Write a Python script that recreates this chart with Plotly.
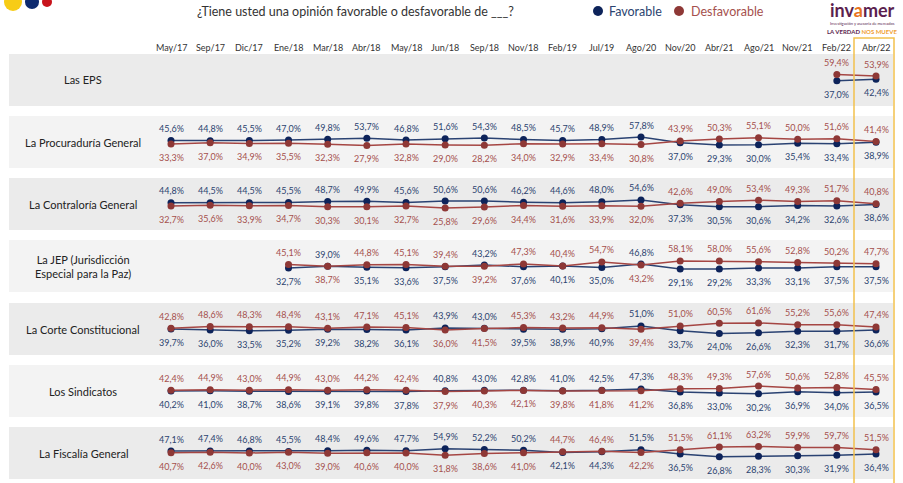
import plotly.graph_objects as go

W, H = 903, 483

months = ["May/17", "Sep/17", "Dic/17", "Ene/18", "Mar/18", "Abr/18", "May/18", "Jun/18",
          "Sep/18", "Nov/18", "Feb/19", "Jul/19", "Ago/20", "Nov/20", "Abr/21", "Ago/21",
          "Nov/21", "Feb/22", "Abr/22"]

institutions = ["Las EPS", "La Procuraduría General", "La Contraloría General",
                "La JEP (Jurisdicción<br>Especial para la Paz)", "La Corte Constitucional",
                "Los Sindicatos", "La Fiscalía General"]

N = None
eps_fav = [N] * 17 + [37.0, 42.4]
eps_desf = [N] * 17 + [59.4, 53.9]

procu_fav = [45.6, 44.8, 45.5, 47.0, 49.8, 53.7, 46.8, 51.6, 54.3, 48.5, 45.7, 48.9, 57.8,
             37.0, 29.3, 30.0, 35.4, 33.4, 38.9]
procu_desf = [33.3, 37.0, 34.9, 35.5, 32.3, 27.9, 32.8, 29.0, 28.2, 34.0, 32.9, 33.4, 30.8,
              43.9, 50.3, 55.1, 50.0, 51.6, 41.4]

contra_fav = [44.8, 44.5, 44.5, 45.5, 48.7, 49.9, 45.6, 50.6, 50.6, 46.2, 44.6, 48.0, 54.6,
              37.3, 30.5, 30.6, 34.2, 32.6, 38.6]
contra_desf = [32.7, 35.6, 33.9, 34.7, 30.3, 30.1, 32.7, 25.8, 29.6, 34.4, 31.6, 33.9, 32.0,
               42.6, 49.0, 53.4, 49.3, 51.7, 40.8]

jep_fav = [N, N, N, 32.7, 39.0, 35.1, 33.6, 37.5, 43.2, 37.6, 40.1, 35.0, 46.8,
           29.1, 29.2, 33.3, 33.1, 37.5, 37.5]
jep_desf = [N, N, N, 45.1, 38.7, 44.8, 45.1, 39.4, 39.2, 47.3, 40.4, 54.7, 43.2,
            58.1, 58.0, 55.6, 52.8, 50.2, 47.7]

corte_fav = [39.7, 36.0, 33.5, 35.2, 39.2, 38.2, 36.1, 43.9, 43.0, 39.5, 38.9, 40.9, 51.0,
             33.7, 24.0, 26.6, 32.3, 31.7, 36.6]
corte_desf = [42.8, 48.6, 48.3, 48.4, 43.1, 47.1, 45.1, 36.0, 41.5, 45.3, 43.2, 44.9, 39.4,
              51.0, 60.5, 61.6, 55.2, 55.6, 47.4]

sind_fav = [40.2, 41.0, 38.7, 38.6, 39.1, 39.8, 37.8, 40.8, 43.0, 42.8, 41.0, 42.5, 47.3,
            36.8, 33.0, 30.2, 36.9, 34.0, 36.5]
sind_desf = [42.4, 44.9, 43.0, 44.9, 43.0, 44.2, 42.4, 37.9, 40.3, 42.1, 39.8, 41.8, 41.2,
             48.3, 49.3, 57.6, 50.6, 52.8, 45.5]

fisc_fav = [47.1, 47.4, 46.8, 45.5, 48.4, 49.6, 47.7, 54.9, 52.2, 50.2, 42.1, 44.3, 51.5,
            36.5, 26.8, 28.3, 30.3, 31.9, 36.4]
fisc_desf = [40.7, 42.6, 40.0, 43.0, 39.0, 40.6, 40.0, 31.8, 38.6, 41.0, 44.7, 46.4, 42.2,
             51.5, 61.1, 63.2, 59.9, 59.7, 51.5]

favorable = [eps_fav, procu_fav, contra_fav, jep_fav, corte_fav, sind_fav, fisc_fav]
desfavorable = [eps_desf, procu_desf, contra_desf, jep_desf, corte_desf, sind_desf, fisc_desf]

BLUE_LINE, BLUE_MK, BLUE_TXT = "#2a4272", "#0d235a", "#2b4470"
RED_LINE, RED_MK, RED_TXT = "#a54643", "#8e3836", "#a5504d"
FONT = "Lato"

panel_tops = [54, 116, 178, 240, 303, 365, 427]
panel_h = 52
panel_bg = ["#ebebeb", "#f3f3f3", "#ebebeb", "#f3f3f3", "#ebebeb", "#f3f3f3", "#ebebeb"]


def px_x(x):
    return x / W


def px_y(y):
    return 1 - y / H


def fmt(v):
    return f"{v:.1f}%".replace(".", ",")


def note(text, x, y, size, color, xanchor="center", **kw):
    # free text placed in pixel coordinates of the page
    return dict(text=text, xref="paper", yref="paper", x=px_x(x), y=px_y(y),
                xanchor=xanchor, yanchor="middle", showarrow=False,
                font=dict(family=FONT, size=size, color=color), **kw)


fig = go.Figure()
shapes = []
annotations = []
layout_axes = {}

for i, name in enumerate(institutions):
    ax = "y" if i == 0 else f"y{i + 1}"
    top = panel_tops[i]
    layout_axes["yaxis" if i == 0 else f"yaxis{i + 1}"] = dict(
        domain=[px_y(top + panel_h), px_y(top)],
        range=[40 - 92.9, 40 + 92.9],
        visible=False, anchor="x", fixedrange=True,
    )
    shapes.append(dict(type="rect", xref="paper", yref="paper", layer="below",
                       x0=px_x(9), x1=px_x(893), y0=px_y(top + panel_h), y1=px_y(top),
                       fillcolor=panel_bg[i], line_width=0))
    annotations.append(note(name, 83, top + panel_h / 2, 11, "#222222"))

    fav, desf = favorable[i], desfavorable[i]
    fig.add_trace(go.Scatter(x=months, y=fav, mode="lines+markers", yaxis=ax, xaxis="x",
                             line=dict(color=BLUE_LINE, width=1.5),
                             marker=dict(color=BLUE_MK, size=7), showlegend=False))
    fig.add_trace(go.Scatter(x=months, y=desf, mode="lines+markers", yaxis=ax, xaxis="x",
                             line=dict(color=RED_LINE, width=1.5),
                             marker=dict(color=RED_MK, size=7), showlegend=False))

    for m, f, d in zip(months, fav, desf):
        if f is None:
            continue
        f_up = f > d
        for v, col, up in ((f, BLUE_TXT, f_up), (d, RED_TXT, not f_up)):
            annotations.append(dict(text=fmt(v), x=m, y=v, xref="x", yref=ax,
                                    xanchor="center", yanchor="middle",
                                    showarrow=False, yshift=12 if up else -13.5,
                                    font=dict(family=FONT, size=9, color=col)))

# month header
for m in months:
    annotations.append(dict(text=m, x=m, xref="x", yref="paper", y=px_y(47),
                            xanchor="center", yanchor="middle",
                            showarrow=False, font=dict(family=FONT, size=9, color="#333333")))

# title and legend
annotations.append(note("¿Tiene usted una opinión favorable o desfavorable de ___?",
                        355, 11, 12.5, "#333333"))
shapes.append(dict(type="circle", xref="paper", yref="paper", fillcolor=BLUE_MK, line_width=0,
                   x0=px_x(593), x1=px_x(603), y0=px_y(16), y1=px_y(6)))
annotations.append(note("Favorable", 607, 11, 12.5, BLUE_TXT, xanchor="left"))
shapes.append(dict(type="circle", xref="paper", yref="paper", fillcolor=RED_MK, line_width=0,
                   x0=px_x(674), x1=px_x(684), y0=px_y(16), y1=px_y(6)))
annotations.append(note("Desfavorable", 689, 11, 12.5, RED_TXT, xanchor="left"))

# logo
annotations.append(note("<b>inv<span style='color:#e8731c'>a</span>mer</b>", 862, 10, 18,
                        "#5b1f4f"))
annotations.append(note("Investigación y asesoría de mercados", 862, 24, 4, "#5b1f4f"))
annotations.append(note("<b>LA VERDAD <span style='color:#f0a030'>NOS MUEVE</span></b>",
                        862, 31, 6, "#5b1f4f"))

# flag dots, top left
for cx, cy, r, col in ((13, 2, 9, "#f7cc16"), (32, 2, 7, "#0d2a6e"), (47, 2, 5, "#c8141c")):
    shapes.append(dict(type="circle", xref="paper", yref="paper", fillcolor=col, line_width=0,
                       x0=px_x(cx - r), x1=px_x(cx + r), y0=px_y(cy + r), y1=px_y(cy - r)))

# highlight of the latest wave
shapes.append(dict(type="rect", xref="paper", yref="paper", layer="above",
                   x0=px_x(854), x1=px_x(894), y0=px_y(486), y1=px_y(38),
                   fillcolor="rgba(0,0,0,0)", line=dict(color="#f2c14e", width=1.5)))

fig.update_layout(
    width=W, height=H,
    margin=dict(l=0, r=0, t=0, b=0),
    paper_bgcolor="white", plot_bgcolor="white",
    xaxis=dict(type="category", categoryarray=months, range=[-4.366, 18.689],
               domain=[0, 1], visible=False, fixedrange=True),
    shapes=shapes, annotations=annotations,
    showlegend=False,
    **layout_axes,
)

# the page body has a default 8px margin; drop it so the figure fills the window
fig.write_html("out.html", config={"displayModeBar": False},
               post_script="document.body.style.margin = '0';")
